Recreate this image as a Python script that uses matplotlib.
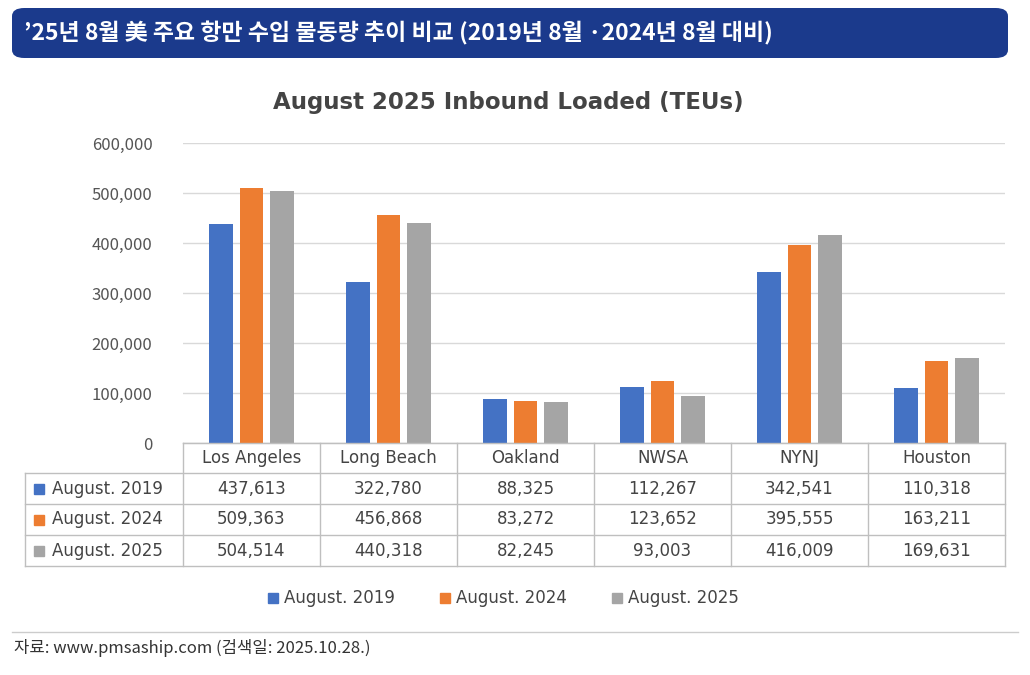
import matplotlib
matplotlib.use('Agg')
import matplotlib.pyplot as plt
from matplotlib.patches import FancyBboxPatch, Rectangle
from matplotlib.lines import Line2D
import numpy as np

plt.rcParams['font.family'] = ['Noto Sans CJK KR', 'DejaVu Sans']

ports = ['Los Angeles', 'Long Beach', 'Oakland', 'NWSA', 'NYNJ', 'Houston']
series_names = ['August. 2019', 'August. 2024', 'August. 2025']
aug_2019 = [437613, 322780, 88325, 112267, 342541, 110318]
aug_2024 = [509363, 456868, 83272, 123652, 395555, 163211]
aug_2025 = [504514, 440318, 82245, 93003, 416009, 169631]
colors = ['#4472C4', '#ED7D31', '#A5A5A5']

W, H = 1030, 675
fig = plt.figure(figsize=(W / 100, H / 100), dpi=100)


def fx(px):
    return px / W


def fy(py):
    return 1 - py / H


# header banner
fig.patches.append(FancyBboxPatch((fx(12), fy(58)), fx(1008) - fx(12), fy(8) - fy(58),
                                  boxstyle='round,pad=0,rounding_size=0.012',
                                  transform=fig.transFigure, facecolor='#1B3A8C', edgecolor='none'))
fig.text(fx(24), fy(33), '’25년 8월 美 주요 항만 수입 물동량 추이 비교 (2019년 8월 ·2024년 8월 대비)',
         color='white', fontsize=16.5, fontweight='bold', va='center', ha='left')

fig.text(fx(508), fy(103), 'August 2025 Inbound Loaded (TEUs)', fontsize=16.5,
         fontweight='bold', color='#444444', ha='center', va='center', family='DejaVu Sans')

ax = fig.add_axes([fx(183), fy(443), fx(1005) - fx(183), fy(143) - fy(443)])
x = np.arange(len(ports))
width = 0.175
for i, (vals, c) in enumerate(zip([aug_2019, aug_2024, aug_2025], colors)):
    ax.bar(x + (i - 1) * 0.22, vals, width, color=c, zorder=3)
ax.set_xlim(-0.5, len(ports) - 0.5)
ax.set_ylim(0, 600000)
ax.set_yticks(range(0, 600001, 100000))
ax.set_yticklabels([f'{v:,}' for v in range(0, 600001, 100000)], fontsize=12, color='#555555')
ax.set_xticks([])
ax.grid(axis='y', color='#D9D9D9', linewidth=1, zorder=0)
for s in ['top', 'right', 'left']:
    ax.spines[s].set_visible(False)
ax.spines['bottom'].set_color('#BFBFBF')
ax.tick_params(axis='y', length=0, pad=22)

# data table
col_edges = [183 + 137 * k for k in range(7)]
row_edges = [443, 473, 504, 535, 566]
line_c = '#BFBFBF'
for xe in col_edges:
    fig.add_artist(Line2D([fx(xe), fx(xe)], [fy(443), fy(566)], color=line_c, lw=1))
fig.add_artist(Line2D([fx(25), fx(25)], [fy(473), fy(566)], color=line_c, lw=1))
for k, ye in enumerate(row_edges):
    x0 = 183 if k == 0 else 25
    fig.add_artist(Line2D([fx(x0), fx(1005)], [fy(ye), fy(ye)], color=line_c, lw=1))

for j, p in enumerate(ports):
    cx = (col_edges[j] + col_edges[j + 1]) / 2
    fig.text(fx(cx), fy(458), p, ha='center', va='center', fontsize=12, color='#444444',
             family='DejaVu Sans')
for i, (name, vals, c) in enumerate(zip(series_names, [aug_2019, aug_2024, aug_2025], colors)):
    cy = (row_edges[i + 1] + row_edges[i + 2]) / 2
    fig.patches.append(Rectangle((fx(34), fy(cy + 5)), fx(10), fy(cy - 5) - fy(cy + 5),
                                 transform=fig.transFigure, color=c))
    fig.text(fx(52), fy(cy), name, ha='left', va='center', fontsize=12, color='#444444',
             family='DejaVu Sans')
    for j, v in enumerate(vals):
        cx = (col_edges[j] + col_edges[j + 1]) / 2
        fig.text(fx(cx), fy(cy), f'{v:,}', ha='center', va='center', fontsize=12,
                 color='#444444', family='DejaVu Sans')

# legend
leg_x = [268, 440, 612]
for lx, name, c in zip(leg_x, series_names, colors):
    fig.patches.append(Rectangle((fx(lx), fy(603)), fx(10), fy(593) - fy(603),
                                 transform=fig.transFigure, color=c))
    fig.text(fx(lx + 16), fy(598), name, ha='left', va='center', fontsize=12, color='#444444',
             family='DejaVu Sans')

fig.add_artist(Line2D([fx(12), fx(1018)], [fy(632), fy(632)], color='#CCCCCC', lw=1))
fig.text(fx(14), fy(648), '자료: www.pmsaship.com (검색일: 2025.10.28.)', ha='left', va='center',
         fontsize=12, color='#333333')

fig.savefig('out.png', dpi=100)
